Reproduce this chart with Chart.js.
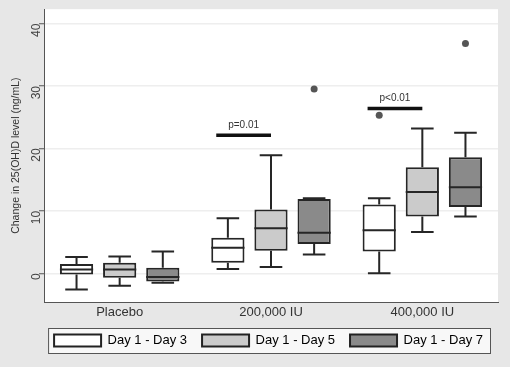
<!DOCTYPE html>
<html>
<head>
<meta charset="utf-8">
<script src="https://cdn.jsdelivr.net/npm/chart.js@4"></script>
<style>
  html, body { margin: 0; padding: 0; background: #e7e7e7; }
  #wrap { width: 510px; height: 367px; }
</style>
</head>
<body>
<div id="wrap"><canvas id="myChart" width="510" height="367"></canvas></div>
<script>
var groups = ["Placebo", "200,000 IU", "400,000 IU"];
var seriesNames = ["Day 1 - Day 3", "Day 1 - Day 5", "Day 1 - Day 7"];
var seriesColors = ["#ffffff", "#cbcbcb", "#8a8a8a"];

// per series: one value per group
var lowD3 = [-2.6, 0.7, 0.0],   q1D3 = [-0.2, 1.7, 3.5],  medD3 = [0.6, 4.1, 6.9],   q3D3 = [1.5, 5.7, 11.0],  highD3 = [2.6, 8.8, 12.0];
var lowD5 = [-2.0, 1.0, 6.6],   q1D5 = [-0.7, 3.6, 9.1],  medD5 = [0.6, 7.2, 13.0],  q3D5 = [1.7, 10.2, 17.0], highD5 = [2.7, 18.9, 23.2];
var lowD7 = [-1.5, 3.0, 9.1],   q1D7 = [-1.3, 4.7, 10.6], medD7 = [-0.6, 6.5, 13.8], q3D7 = [0.9, 11.9, 18.6], highD7 = [3.5, 12.0, 22.5];

// outliers: [group index, series index, value]
var outliers = [[1, 2, 29.5], [2, 0, 25.3], [2, 2, 36.8]];

// p-value brackets: [group index, value, text]
var pBars = [[1, 22.1, "p=0.01"], [2, 26.4, "p<0.01"]];

var yTicks = [0, 10, 20, 30, 40];
var yTitle = "Change in 25(OH)D level (ng/mL)";

var stats = [
  { low: lowD3, q1: q1D3, med: medD3, q3: q3D3, high: highD3 },
  { low: lowD5, q1: q1D5, med: medD5, q3: q3D5, high: highD5 },
  { low: lowD7, q1: q1D7, med: medD7, q3: q3D7, high: highD7 }
];

var datasets = stats.map(function(s, i) {
  return {
    label: seriesNames[i],
    data: s.q1.map(function(v, j) { return [v, s.q3[j]]; }),
    backgroundColor: seriesColors[i],
    borderColor: "#262626",
    borderWidth: 2,
    borderSkipped: false,
    categoryPercentage: 0.855,
    barPercentage: 0.77
  };
});

var boxPlot = {
  id: "boxPlot",
  beforeDraw: function(chart) {
    var ctx = chart.ctx, a = chart.chartArea, lg = chart.legend;
    ctx.save();
    ctx.fillStyle = "#ffffff";
    ctx.fillRect(a.left, a.top, a.right - a.left, a.bottom - a.top);
    if (lg && lg.legendHitBoxes.length) {
      var hb = lg.legendHitBoxes, first = hb[0], last = hb[hb.length - 1];
      var x0 = first.left - 6, x1 = last.left + last.width + 7;
      var y0 = first.top - 6, y1 = first.top + first.height + 6;
      ctx.fillStyle = "#f8f8f8";
      ctx.fillRect(x0, y0, x1 - x0, y1 - y0);
      ctx.strokeStyle = "#555";
      ctx.lineWidth = 1;
      ctx.strokeRect(x0 + 0.5, y0 + 0.5, x1 - x0, y1 - y0);
    }
    ctx.restore();
  },
  afterDatasetsDraw: function(chart) {
    var ctx = chart.ctx, y = chart.scales.y;
    ctx.save();
    ctx.strokeStyle = "#262626";
    ctx.lineWidth = 2;
    stats.forEach(function(s, i) {
      var meta = chart.getDatasetMeta(i);
      meta.data.forEach(function(bar, j) {
        var half = bar.width / 2, cap = bar.width * 0.34;
        var yMed = y.getPixelForValue(s.med[j]);
        var yQ1 = y.getPixelForValue(s.q1[j]), yQ3 = y.getPixelForValue(s.q3[j]);
        var yLo = y.getPixelForValue(s.low[j]), yHi = y.getPixelForValue(s.high[j]);
        ctx.beginPath();
        ctx.moveTo(bar.x - half, yMed); ctx.lineTo(bar.x + half, yMed);
        ctx.moveTo(bar.x, yQ3); ctx.lineTo(bar.x, yHi);
        ctx.moveTo(bar.x - cap, yHi); ctx.lineTo(bar.x + cap, yHi);
        ctx.moveTo(bar.x, yQ1); ctx.lineTo(bar.x, yLo);
        ctx.moveTo(bar.x - cap, yLo); ctx.lineTo(bar.x + cap, yLo);
        ctx.stroke();
      });
    });
    ctx.fillStyle = "#555";
    outliers.forEach(function(o) {
      var bar = chart.getDatasetMeta(o[1]).data[o[0]];
      ctx.beginPath();
      ctx.arc(bar.x, y.getPixelForValue(o[2]), 3.5, 0, Math.PI * 2);
      ctx.fill();
    });
    ctx.lineWidth = 3.5;
    ctx.strokeStyle = "#111";
    ctx.fillStyle = "#333";
    ctx.font = "10px 'Liberation Sans', Arial, sans-serif";
    ctx.textAlign = "center";
    ctx.textBaseline = "alphabetic";
    pBars.forEach(function(p) {
      var b1 = chart.getDatasetMeta(0).data[p[0]], b2 = chart.getDatasetMeta(1).data[p[0]];
      var x0 = b1.x - b1.width * 0.35, x1 = b2.x, py = y.getPixelForValue(p[1]);
      ctx.beginPath();
      ctx.moveTo(x0, py); ctx.lineTo(x1, py);
      ctx.stroke();
      ctx.fillText(p[2], (x0 + x1) / 2, py - 7);
    });
    ctx.restore();
  }
};

Chart.defaults.font.family = "'Liberation Sans', Arial, sans-serif";
Chart.defaults.color = "#333";

var myChart = new Chart(document.getElementById("myChart"), {
  type: "bar",
  data: { labels: groups, datasets: datasets },
  options: {
    responsive: false,
    animation: false,
    layout: { padding: { top: 5, right: 12, left: 0, bottom: 10 } },
    plugins: {
      legend: {
        position: "bottom",
        align: "end",
        labels: {
          boxWidth: 47, boxHeight: 12, font: { size: 13 }, color: "#333", padding: 15,
          generateLabels: function(chart) {
            return seriesNames.map(function(n, i) {
              return { text: n, fillStyle: seriesColors[i], strokeStyle: "#222", lineWidth: 2, datasetIndex: i };
            });
          }
        }
      },
      tooltip: { enabled: false }
    },
    scales: {
      x: {
        grid: { display: false, drawTicks: false },
        border: { color: "#555", width: 1 },
        ticks: { font: { size: 13 }, color: "#333", padding: 3 },
        afterFit: function(s) { s.height = 17; }
      },
      y: {
        min: -4.6, max: 42.3,
        afterBuildTicks: function(s) { s.ticks = yTicks.map(function(v) { return { value: v }; }); },
        grid: { color: "#eeeeee", lineWidth: 1.5, tickColor: "#555", tickLength: 5, tickWidth: 1 },
        border: { color: "#555", width: 1 },
        ticks: { minRotation: 90, maxRotation: 90, font: { size: 12 }, color: "#444", padding: 2 },
        title: { display: true, text: yTitle, font: { size: 10.5 }, color: "#333", padding: { top: 10, bottom: 0 } },
        afterFit: function(s) { s.width = 44; }
      }
    }
  },
  plugins: [boxPlot]
});
</script>
</body>
</html>
